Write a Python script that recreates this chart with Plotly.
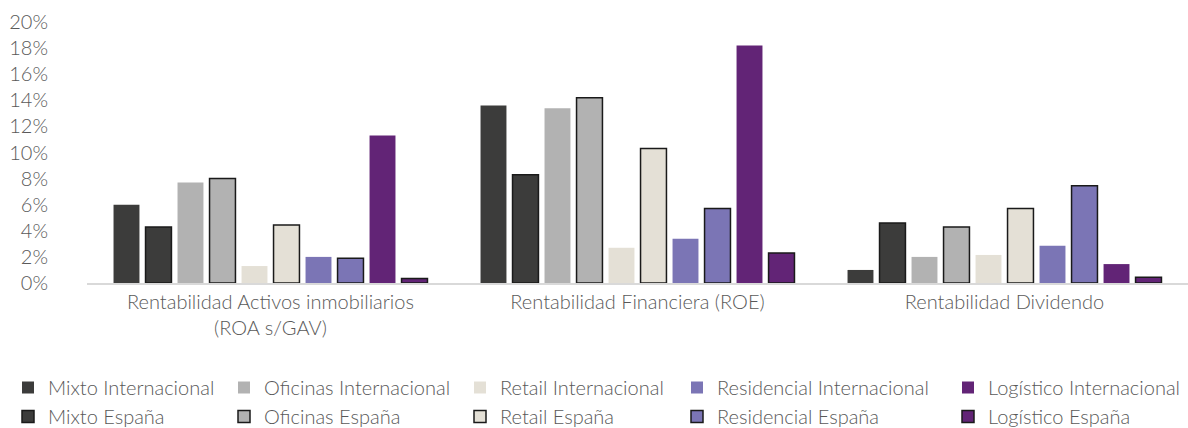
import plotly.graph_objects as go

categories = ["Rentabilidad Activos inmobiliarios<br>(ROA s/GAV)",
              "Rentabilidad Financiera (ROE)",
              "Rentabilidad Dividendo"]

mixto_int = [6.0, 13.6, 1.0]
mixto_esp = [4.3, 8.3, 4.6]
oficinas_int = [7.7, 13.4, 2.0]
oficinas_esp = [8.0, 14.2, 4.3]
retail_int = [1.3, 2.7, 2.15]
retail_esp = [4.45, 10.3, 5.7]
residencial_int = [2.0, 3.4, 2.85]
residencial_esp = [1.9, 5.7, 7.45]
logistico_int = [11.3, 18.2, 1.45]
logistico_esp = [0.35, 2.3, 0.45]

y_ticks = [0, 2, 4, 6, 8, 10, 12, 14, 16, 18, 20]
y_tick_labels = [f"{v}%" for v in y_ticks]

FONT = "Source Sans Pro, Lato, sans-serif"
TXT = "#595959"
FS = 20

series = [
    ("Mixto Internacional", mixto_int, "#3C3C3B", False, "legend"),
    ("Mixto España", mixto_esp, "#3C3C3B", True, "legend"),
    ("Oficinas Internacional", oficinas_int, "#B2B2B2", False, "legend2"),
    ("Oficinas España", oficinas_esp, "#B2B2B2", True, "legend2"),
    ("Retail Internacional", retail_int, "#E4E0D6", False, "legend3"),
    ("Retail España", retail_esp, "#E4E0D6", True, "legend3"),
    ("Residencial Internacional", residencial_int, "#7B75B5", False, "legend4"),
    ("Residencial España", residencial_esp, "#7B75B5", True, "legend4"),
    ("Logístico Internacional", logistico_int, "#622476", False, "legend5"),
    ("Logístico España", logistico_esp, "#622476", True, "legend5"),
]

fig = go.Figure()
for name, vals, color, esp, lg in series:
    fig.add_trace(go.Bar(
        name=name, x=categories, y=vals,
        marker=dict(color=color,
                    line=dict(color="#1A1A1A" if esp else color,
                              width=1.5 if esp else 0)),
        legend=lg,
    ))

W, H = 1188, 428
L, R, T, B = 87, 0, 22, 145
pw = W - L - R
ph = H - T - B

def px_x(px):
    return (px - L) / pw

def px_y(py):
    return (H - B - py) / ph

legend_text_x = [50, 266, 502, 719, 990]
leg_common = dict(orientation="v", xanchor="left", yanchor="top",
                  bgcolor="rgba(0,0,0,0)",
                  font=dict(family=FONT, size=FS, color=TXT, weight=300),
                  tracegroupgap=0, itemwidth=30)
layout_legends = {}
for i, tx in enumerate(legend_text_x):
    key = "legend" if i == 0 else f"legend{i+1}"
    layout_legends[key] = dict(x=px_x(tx - 42), y=px_y(368), **leg_common)

fig.update_layout(
    width=W, height=H,
    margin=dict(l=L, r=R, t=T, b=B, autoexpand=False),
    paper_bgcolor="white", plot_bgcolor="white",
    barmode="group", bargap=0.128, bargroupgap=0.19,
    font=dict(family=FONT, size=FS, color=TXT, weight=300),
    showlegend=True,
    **layout_legends,
)
fig.update_xaxes(showgrid=False, showline=True, linecolor="#D9D9D9", linewidth=1.5,
                 ticks="", automargin=False,
                 tickfont=dict(family=FONT, size=FS, color=TXT, weight=300))
fig.update_yaxes(range=[0, 20], tickvals=y_ticks, ticktext=y_tick_labels,
                 showgrid=False, automargin=False,
                 showline=False, zeroline=False, ticks="", ticklabelstandoff=38,
                 tickfont=dict(family=FONT, size=FS, color=TXT, weight=300))

fig.write_html("out.html",
               config={"displayModeBar": False},
               post_script="document.body.style.margin='0';document.body.style.overflow='hidden';")
